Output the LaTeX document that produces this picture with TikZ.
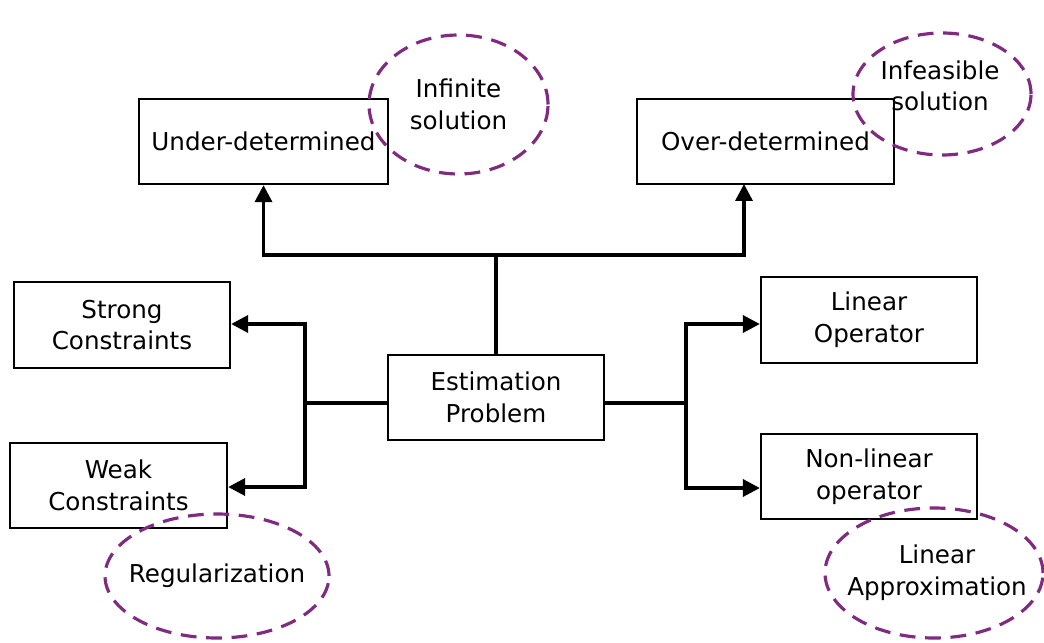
\documentclass[tikz,border=0pt]{standalone}
\usepackage{fontspec}
\setmainfont{DejaVu Sans}
\usetikzlibrary{shapes.geometric}
\usetikzlibrary{arrows.meta}
\usetikzlibrary{calc}
\definecolor{notepurple}{RGB}{128,42,128}
\newcommand{\px}{0.02cm}
\tikzset{
  blockbox/.style={draw,line width=1.3pt,fill=white,align=center,
    inner sep=0pt},
  notebubble/.style={ellipse,draw=notepurple,dash pattern=on 9pt off 5.5pt,
    line width=1.8pt,inner sep=0pt},
  notetext/.style={align=center},
  feed/.style={line width=2pt},
  feedarrow/.style={feed,-{Triangle[length=0.34cm,width=0.34cm]}}
}

\begin{document}
\begin{tikzpicture}[x=\px,y=-\px,font=\fontsize{14}{18}\selectfont]
    \useasboundingbox (0,0) rectangle (1044,642);

    % boxes
    \node (under) at (263.5,141.5) [blockbox,minimum width=249*\px,
      minimum height=85*\px] {Under-determined};
    \node (over) at (765.5,141.5) [blockbox,minimum width=257*\px,
      minimum height=85*\px] {Over-determined};
    \node (strong) at (122,325) [blockbox,minimum width=216*\px,
      minimum height=86*\px] {Strong\\Constraints};
    \node (weak) at (118.5,485.5) [blockbox,minimum width=217*\px,
      minimum height=85*\px] {Weak\\Constraints};
    \node (est) at (496,397.5) [blockbox,minimum width=216*\px,
      minimum height=85*\px] {Estimation\\Problem};
    \node (lin) at (869,320) [blockbox,minimum width=216*\px,
      minimum height=86*\px] {Linear\\Operator};
    \node (nonlin) at (869,476.5) [blockbox,minimum width=216*\px,
      minimum height=85*\px] {Non-linear\\operator};

    % bus points
    \coordinate (topbus) at (496,255);
    \coordinate (overin) at (744,184);
    \coordinate (leftbus) at (305,403);
    \coordinate (rightbus) at (686,403);

    \draw[feed] (est.north) -- (topbus);
    \draw[feedarrow] (topbus) -| (under.south);
    \draw[feedarrow] (topbus) -| (overin);

    \draw[feed] (est.west |- leftbus) -- (leftbus);
    \draw[feedarrow] (leftbus) |- ($(strong.east)+(0,-1)$);
    \draw[feedarrow] (leftbus) |- ($(weak.east)+(0,1.5)$);

    \draw[feed] (est.east |- rightbus) -- (rightbus);
    \draw[feedarrow] (rightbus) |- ($(lin.west)+(0,4)$);
    \draw[feedarrow] (rightbus) |- ($(nonlin.west)+(0,11.5)$);

    % notes
    \node (infinite) at (458.5,104.5) [notebubble,minimum width=179*\px,
      minimum height=139*\px] {};
    \node[notetext] at (infinite) {Infinite\\solution};
    \node (infeasible) at (942,94) [notebubble,minimum width=178*\px,
      minimum height=122*\px] {};
    \node[notetext] at ($(infeasible)+(-2,-8)$) {Infeasible\\solution};
    \node (regular) at (217,576) [notebubble,minimum width=224*\px,
      minimum height=124*\px] {};
    \node[notetext] at (regular) {Regularization};
    \node (linapprox) at (934,573) [notebubble,minimum width=218*\px,
      minimum height=130*\px] {};
    \node[notetext] at ($(linapprox)+(3,0)$) {Linear\\Approximation};
\end{tikzpicture}
\end{document}
